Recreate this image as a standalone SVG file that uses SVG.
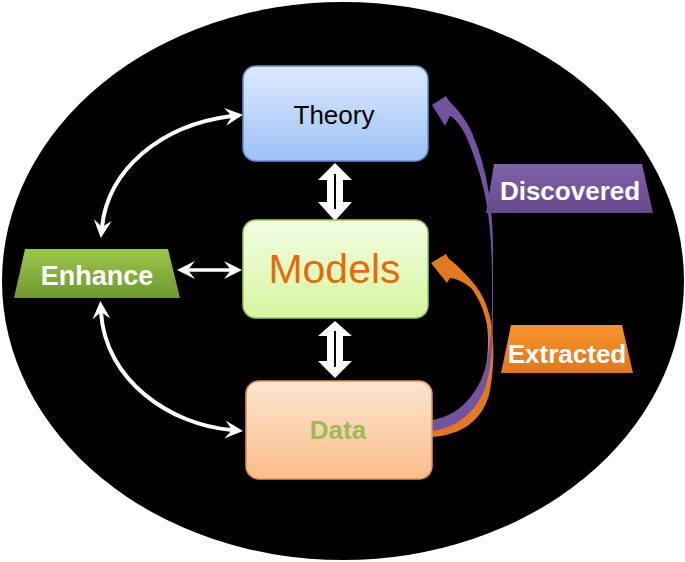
<svg xmlns="http://www.w3.org/2000/svg" width="685" height="562" viewBox="0 0 685 562">
<defs>
<linearGradient id="gTheory" x1="0" y1="0" x2="0" y2="1"><stop offset="0" stop-color="#dde9fd"/><stop offset="1" stop-color="#9cc2f7"/></linearGradient>
<linearGradient id="gModels" x1="0" y1="0" x2="0" y2="1"><stop offset="0" stop-color="#f3fde5"/><stop offset="1" stop-color="#d6f69e"/></linearGradient>
<linearGradient id="gData" x1="0" y1="0" x2="0" y2="1"><stop offset="0" stop-color="#fde5d2"/><stop offset="1" stop-color="#fbbd88"/></linearGradient>
<linearGradient id="gEnh" x1="0" y1="0" x2="0" y2="1"><stop offset="0" stop-color="#9dc74b"/><stop offset="1" stop-color="#6c982f"/></linearGradient>
<linearGradient id="gDisc" x1="0" y1="0" x2="0" y2="1"><stop offset="0" stop-color="#8062aa"/><stop offset="1" stop-color="#65498b"/></linearGradient>
<linearGradient id="gExt" x1="0" y1="0" x2="0" y2="1"><stop offset="0" stop-color="#f8942f"/><stop offset="1" stop-color="#df771d"/></linearGradient>
<marker id="wh" viewBox="-18 -10 21 20" refX="-9" refY="0" markerWidth="21" markerHeight="20" markerUnits="userSpaceOnUse" orient="auto-start-reverse">
<path d="M2,0 L-16,-9 L-9,0 L-16,9 Z" fill="#ffffff"/>
</marker>
</defs>
<style>
.lbl{font-family:"Liberation Sans",Arial,sans-serif;}
.wtxt{font-family:"Liberation Sans",Arial,sans-serif;font-weight:bold;fill:#ffffff;text-anchor:middle;}
.conn{fill:none;stroke:#ffffff;stroke-width:4;}
</style>
<rect x="0" y="0" width="685" height="562" fill="#ffffff"/>
<ellipse cx="343" cy="281" rx="341" ry="279" fill="#000000"/>

<g id="connectors">
<path class="conn" d="M102,227 C108,170 160,125 232,116" marker-start="url(#wh)" marker-end="url(#wh)"/>
<path class="conn" d="M101,312 C105,380 170,425 232,430" marker-start="url(#wh)" marker-end="url(#wh)"/>
<path class="conn" style="stroke-width:3.5" d="M188,270 L231,270" marker-start="url(#wh)" marker-end="url(#wh)"/>
<g id="arrow-theory-models">
<path d="M335,163 L352,180 L343,180 L343,202 L352,202 L335,221 L318,202 L327,202 L327,180 L318,180 Z" fill="#ffffff"/>
<line x1="335" y1="174" x2="335" y2="209" stroke="#000000" stroke-width="2"/>
</g>
<g id="arrow-models-data">
<path d="M335,321 L352,336 L343,336 L343,361 L352,361 L335,378 L318,361 L327,361 L327,336 L318,336 Z" fill="#ffffff"/>
<line x1="335" y1="331" x2="335" y2="367" stroke="#000000" stroke-width="2"/>
</g>
<path id="arrow-extracted" fill="#e2781f" d="M432,437 C462,435 482,420 489,395 C493,378 494,355 493,340 C492,315 485,295 470,279 C464,272 458,266 449,259 L446,254 L431,263 L447,283 L450,278 C458,279 465,283 471,288 C479,298 484,310 487,325 C489,340 488,360 484,375 C477,400 460,420 432,428 Z"/>
<path id="arrow-discovered" fill="#7352a0" d="M432,431 C458,428 478,410 486,385 C492,365 493,340 493,300 L493,250 C493,210 488,170 472,133 C466,120 460,112 449,101 L446,96 L432,105 L445,126 L450,116 C456,119 461,126 466,136 C473,152 480,172 485,195 C490,220 492,250 492,280 L492,300 C492,340 488,365 480,382 C470,402 455,416 432,420 Z"/>
</g>

<g id="theory">
<rect x="243" y="66" width="185" height="95" rx="13" fill="url(#gTheory)" stroke="#5f8fd4" stroke-width="1.5"/>
<text class="lbl" x="334" y="124" font-size="26" text-anchor="middle" fill="#000000">Theory</text>
</g>
<g id="models">
<rect x="243" y="220" width="185" height="98" rx="13" fill="url(#gModels)" stroke="#9cc95e" stroke-width="1.5"/>
<text class="lbl" x="334.5" y="283" font-size="41" text-anchor="middle" fill="#e46c0a">Models</text>
</g>
<g id="data">
<rect x="246" y="381" width="186" height="98" rx="13" fill="url(#gData)" stroke="#e8904a" stroke-width="1.5"/>
<text class="lbl" x="338" y="439" font-size="26" font-weight="bold" text-anchor="middle" fill="#9bbb59">Data</text>
</g>
<g id="enhance">
<path d="M25,249 L168,249 L180,298 L14,298 Z" fill="url(#gEnh)"/>
<text class="wtxt" x="97" y="285" font-size="27">Enhance</text>
</g>
<g id="discovered">
<path d="M494,164 L642,164 L653,213 L486,213 Z" fill="url(#gDisc)"/>
<text class="wtxt" x="570" y="200" font-size="26">Discovered</text>
</g>
<g id="extracted">
<path d="M511,325 L622,325 L633,373 L501,373 Z" fill="url(#gExt)"/>
<text class="wtxt" x="567" y="363" font-size="26">Extracted</text>
</g>
</svg>
